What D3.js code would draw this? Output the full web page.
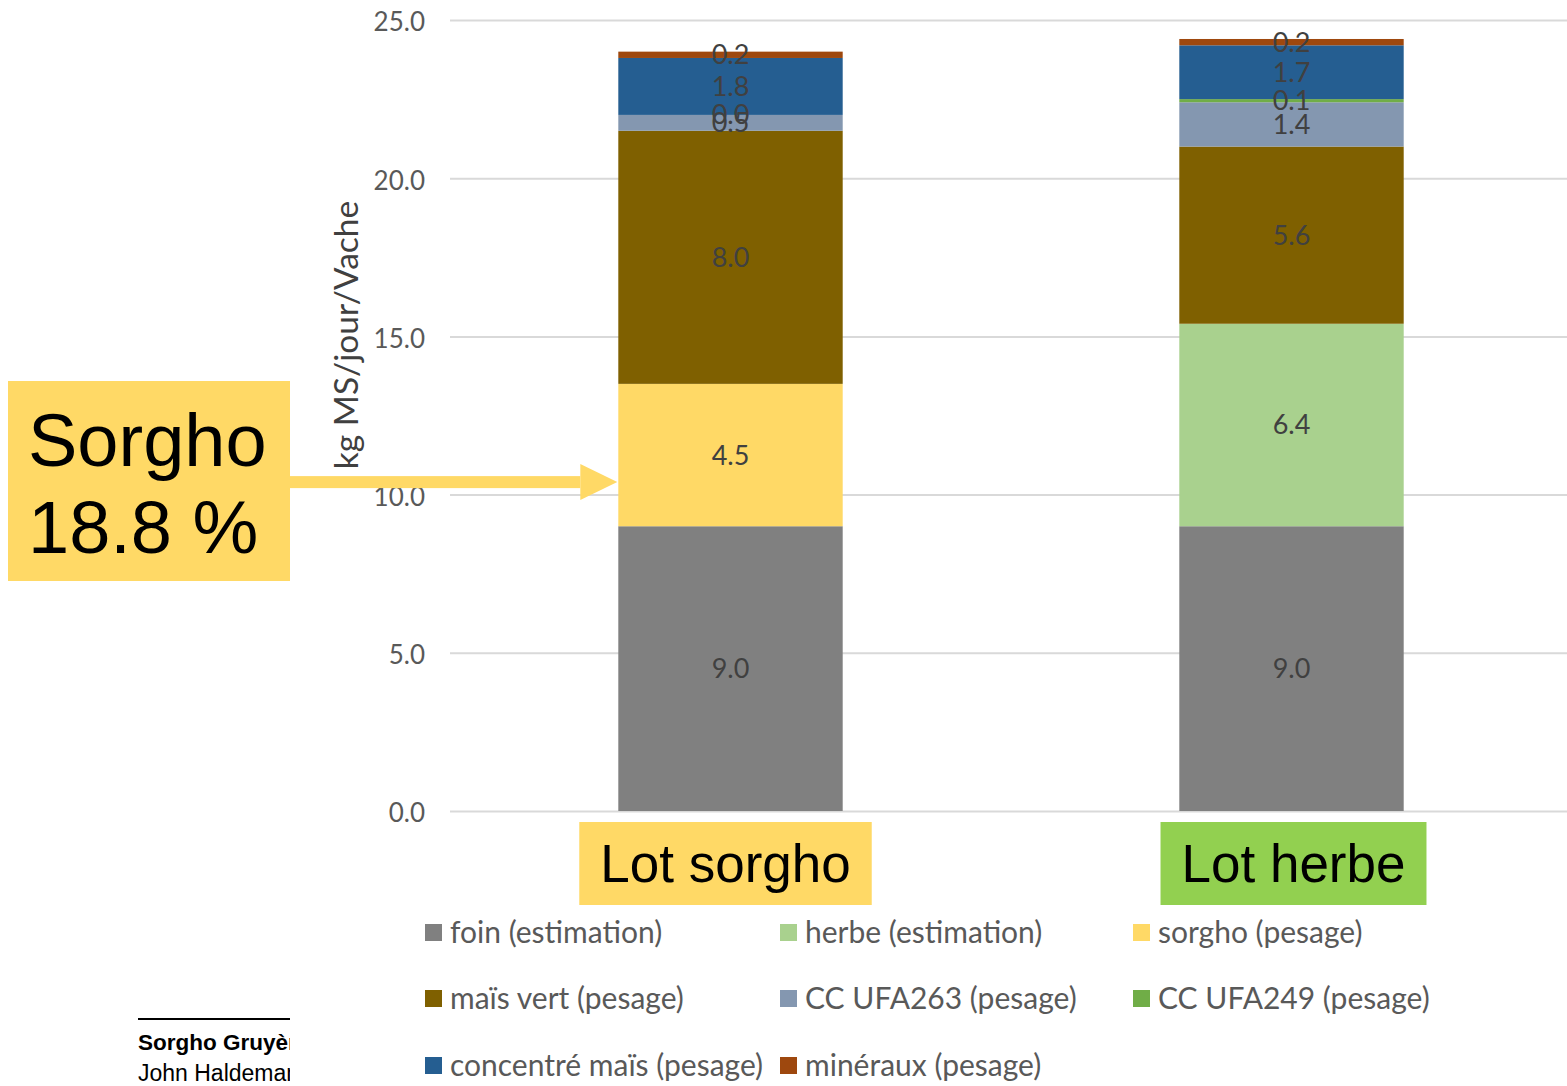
<!DOCTYPE html>
<html>
<head>
<meta charset="utf-8">
<script src="https://cdn.jsdelivr.net/npm/d3@7"></script>
<style>
  html, body { margin: 0; padding: 0; background: #ffffff; }
  svg { display: block; }
</style>
</head>
<body>
<svg id="chart" width="1567" height="1086"></svg>
<script>
// Daily dry-matter intake per cow, by feed component, for the two groups
const categories = ["Lot sorgho", "Lot herbe"];
const seriesNames = [
  "foin (estimation)", "herbe (estimation)", "sorgho (pesage)",
  "maïs vert (pesage)", "CC UFA263 (pesage)", "CC UFA249 (pesage)",
  "concentré maïs (pesage)", "minéraux (pesage)"
];
const seriesColors = ["#808080", "#A9D18E", "#FFD966", "#7F6000", "#8497B0", "#70AD47", "#255E91", "#9E480E"];
// one array per component, ordered like categories (null = not fed)
const foin      = [9.0, 9.0];
const herbe     = [null, 6.4];
const sorgho    = [4.5, null];
const maisVert  = [8.0, 5.6];
const ccUfa263  = [0.5, 1.4];
const ccUfa249  = [0.0, 0.1];
const concentre = [1.8, 1.7];
const mineraux  = [0.2, 0.2];
const yTicks = [0, 5, 10, 15, 20, 25];
const sorghoShare = "18.8 %";

const seriesValues = [foin, herbe, sorgho, maisVert, ccUfa263, ccUfa249, concentre, mineraux];

const svg = d3.select("#chart");
const chartFont = "Lato, 'Open Sans', sans-serif";
const overlayFont = "'Liberation Sans', Arial, sans-serif";

const x = d3.scaleBand().domain(categories).range([450, 1572]).paddingInner(0.6).paddingOuter(0.3);
const y = d3.scaleLinear().domain([0, 25]).range([811, 20]);

// rows for d3.stack
const rows = categories.map((c, i) => {
  const r = { cat: c };
  seriesNames.forEach((s, k) => { r[s] = seriesValues[k][i] == null ? 0 : seriesValues[k][i]; });
  return r;
});
const stacked = d3.stack().keys(seriesNames)(rows);

// gridlines + tick labels
const yAxis = d3.axisLeft(y).tickValues(yTicks).tickFormat(d3.format(".1f")).tickSize(-(1567 - 450)).tickPadding(25);
const gAxis = svg.append("g").attr("transform", "translate(450,0)").call(yAxis);
gAxis.select(".domain").remove();
gAxis.selectAll(".tick line").attr("stroke", "#d9d9d9").attr("stroke-width", 2);
gAxis.selectAll(".tick text").attr("fill", "#595959").attr("dy", "0.42em")
  .style("font-family", chartFont).style("font-size", "26px");

// axis title
svg.append("text")
  .attr("transform", "translate(358,335) rotate(-90)")
  .attr("text-anchor", "middle")
  .attr("fill", "#404040")
  .style("font-family", chartFont).style("font-size", "33.5px")
  .text("kg MS/jour/Vache");

// stacked bars
const layers = svg.append("g").selectAll("g").data(stacked).join("g")
  .attr("fill", (d, i) => seriesColors[i]);
layers.selectAll("rect").data(d => d.map((v, i) => ({ v, cat: categories[i] }))).join("rect")
  .attr("x", d => x(d.cat))
  .attr("width", x.bandwidth())
  .attr("y", d => y(d.v[1]))
  .attr("height", d => y(d.v[0]) - y(d.v[1]));

// data labels
const labels = svg.append("g");
stacked.forEach((layer, k) => {
  layer.forEach((v, i) => {
    const raw = seriesValues[k][i];
    if (raw == null) return;
    labels.append("text")
      .attr("x", x(categories[i]) + x.bandwidth() / 2)
      .attr("y", y((v[0] + v[1]) / 2))
      .attr("dy", "0.35em")
      .attr("text-anchor", "middle")
      .attr("fill", "#404040")
      .style("font-family", chartFont).style("font-size", "27px")
      .text(d3.format(".1f")(raw));
  });
});

// legend
const legendCols = [425, 780, 1133];
const legendRows = [932, 998, 1065];
const legend = svg.append("g");
seriesNames.forEach((s, k) => {
  const cx = legendCols[k % 3], cy = legendRows[Math.floor(k / 3)];
  legend.append("rect").attr("x", cx).attr("y", cy - 8).attr("width", 17).attr("height", 17).attr("fill", seriesColors[k]);
  legend.append("text").attr("x", cx + 25).attr("y", cy).attr("dy", "0.35em")
    .attr("fill", "#595959")
    .style("font-family", chartFont).style("font-size", "30px")
    .text(s);
});

// group labels under the bars
const groupFill = ["#FFD966", "#92D050"];
const groupShift = [-5, 2];
categories.forEach((c, i) => {
  const cxm = x(c) + x.bandwidth() / 2 + groupShift[i];
  const t = svg.append("text").attr("x", cxm).attr("y", 882).attr("text-anchor", "middle")
    .attr("fill", "#000").style("font-family", overlayFont).style("font-size", "53px").text(c);
  const w = t.node().getComputedTextLength() + 42;
  svg.insert("rect", () => t.node()).attr("x", cxm - w / 2).attr("y", 822).attr("width", w).attr("height", 83).attr("fill", groupFill[i]);
});

// callout: sorgho share, with arrow to the sorgho segment
const arrowY = y(10) - 12.5;
const tipX = x(categories[0]) - 1;
svg.append("rect").attr("x", 290).attr("y", arrowY - 6).attr("width", tipX - 37 - 290).attr("height", 12).attr("fill", "#FFD966");
svg.append("path")
  .attr("d", `M${tipX - 37},${arrowY - 18} L${tipX},${arrowY} L${tipX - 37},${arrowY + 18} Z`)
  .attr("fill", "#FFD966");
svg.append("rect").attr("x", 8).attr("y", 381).attr("width", 282).attr("height", 200).attr("fill", "#FFD966");
svg.append("text").attr("x", 28).attr("y", 466).attr("fill", "#000")
  .style("font-family", overlayFont).style("font-size", "74px").text("Sorgho");
svg.append("text").attr("x", 28).attr("y", 553).attr("fill", "#000")
  .style("font-family", overlayFont).style("font-size", "74px").text(sorghoShare);

// footer, cut off at the slide edge
svg.append("clipPath").attr("id", "footClip").append("rect").attr("x", 0).attr("y", 1000).attr("width", 290).attr("height", 86);
const foot = svg.append("g").attr("clip-path", "url(#footClip)");
foot.append("line").attr("x1", 138).attr("x2", 290).attr("y1", 1019).attr("y2", 1019).attr("stroke", "#000").attr("stroke-width", 2);
foot.append("text").attr("x", 138).attr("y", 1050).attr("fill", "#000")
  .style("font-family", overlayFont).style("font-size", "22.5px").style("font-weight", "bold").text("Sorgho Gruyère");
foot.append("text").attr("x", 138).attr("y", 1081).attr("fill", "#000")
  .style("font-family", overlayFont).style("font-size", "23px").text("John Haldemann");
</script>
</body>
</html>
